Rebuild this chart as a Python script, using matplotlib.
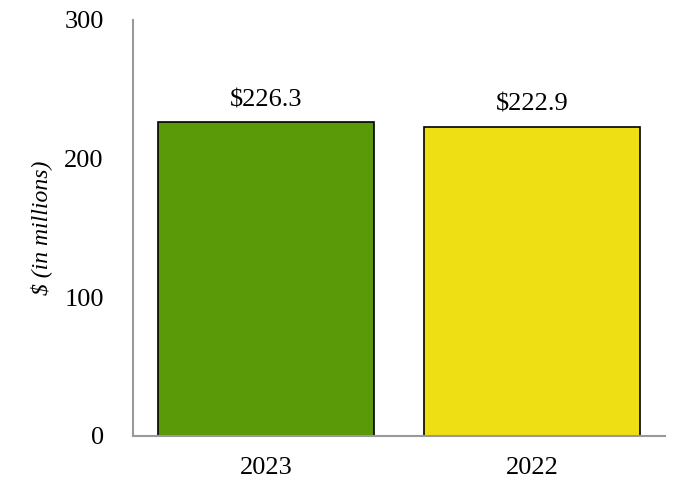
import matplotlib
matplotlib.use("Agg")
import matplotlib.pyplot as plt

# Data
years = ["2023", "2022"]
values = [226.3, 222.9]
bar_colors = ["#5a9a08", "#eedf15"]
yticks = [0, 100, 200, 300]

plt.rcParams["font.family"] = ["Liberation Serif", "DejaVu Serif"]

fig = plt.figure(figsize=(6.82, 5.0), dpi=100)
ax = fig.add_axes([0.195, 0.128, 0.78, 0.832])

x = range(len(years))
bars = ax.bar(x, values, width=0.81, color=bar_colors, edgecolor="black", linewidth=1.2)

# Value labels above the bars
for xi, v in zip(x, values):
    ax.text(xi, v + 16, f"${v:.1f}", ha="center", va="center", fontsize=19)

ax.set_xlim(-0.5, 1.5)
ax.set_ylim(0, 300)
ax.set_xticks(list(x))
ax.set_xticklabels(years, fontsize=19)
ax.set_yticks(yticks)
ax.set_yticklabels([str(t) for t in yticks], fontsize=19)
ax.tick_params(length=0)
ax.tick_params(axis="y", pad=21)
ax.tick_params(axis="x", pad=15)

ax.set_ylabel("$ (in millions)", fontsize=17, style="italic", labelpad=9)

for side in ["top", "right"]:
    ax.spines[side].set_visible(False)
for side in ["left", "bottom"]:
    ax.spines[side].set_color("#999999")
    ax.spines[side].set_linewidth(1.5)

fig.savefig("out.png", dpi=100)
